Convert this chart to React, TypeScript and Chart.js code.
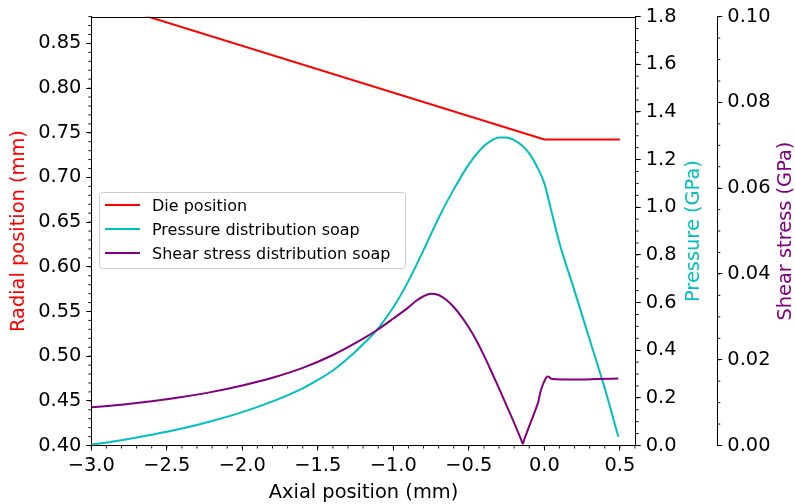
import React, { useEffect, useRef } from 'react';
import { Chart, registerables } from 'chart.js';

Chart.register(...registerables);

// ---------------- data ----------------
const seriesLabels = ['Die position', 'Pressure distribution soap', 'Shear stress distribution soap'];
const seriesColors = ['#ff0000', '#00bfbf', '#800080'];

const dieX = [-3.0, 0.0, 0.5];
const dieY = [0.8997, 0.7425, 0.7425];

const pressureX = [-3.0, -2.8, -2.6, -2.4, -2.2, -2.0, -1.8, -1.6, -1.5, -1.4, -1.3, -1.2, -1.1, -1.0, -0.9, -0.8, -0.7, -0.6, -0.5, -0.4, -0.35, -0.3, -0.25, -0.2, -0.15, -0.1, -0.05, 0.0, 0.05, 0.1, 0.2, 0.3, 0.4, 0.49];
const pressureY = [0.003, 0.022, 0.045, 0.071, 0.103, 0.140, 0.185, 0.240, 0.275, 0.315, 0.366, 0.425, 0.492, 0.580, 0.690, 0.820, 0.955, 1.075, 1.180, 1.257, 1.280, 1.293, 1.293, 1.282, 1.260, 1.226, 1.172, 1.100, 0.975, 0.850, 0.649, 0.445, 0.240, 0.037];

const shearX = [-3.0, -2.8, -2.6, -2.4, -2.2, -2.0, -1.8, -1.6, -1.4, -1.2, -1.1, -1.0, -0.9, -0.85, -0.8, -0.75, -0.7, -0.65, -0.6, -0.55, -0.5, -0.45, -0.4, -0.35, -0.3, -0.25, -0.2, -0.153, -0.143, -0.133, -0.1, -0.06, -0.04, -0.025, -0.01, 0.0, 0.02, 0.03, 0.045, 0.06, 0.15, 0.25, 0.35, 0.49];
const shearY = [0.0089, 0.0095, 0.0103, 0.0113, 0.0125, 0.0140, 0.0158, 0.0181, 0.0211, 0.0249, 0.0271, 0.0296, 0.0322, 0.0337, 0.0348, 0.0354, 0.0351, 0.0340, 0.0323, 0.0301, 0.0275, 0.0245, 0.0210, 0.0172, 0.0133, 0.0093, 0.0053, 0.0013, 0.0004, 0.0014, 0.0045, 0.0082, 0.0102, 0.0126, 0.0142, 0.0150, 0.0161, 0.0160, 0.0156, 0.0155, 0.0154, 0.0154, 0.0155, 0.0156];

const xTicks = [-3.0, -2.5, -2.0, -1.5, -1.0, -0.5, 0.0, 0.5];
const xTickLabels = ['−3.0', '−2.5', '−2.0', '−1.5', '−1.0', '−0.5', '0.0', '0.5'];
const radialTicks = [0.40, 0.45, 0.50, 0.55, 0.60, 0.65, 0.70, 0.75, 0.80, 0.85];
const radialTickLabels = ['0.40', '0.45', '0.50', '0.55', '0.60', '0.65', '0.70', '0.75', '0.80', '0.85'];
const pressureTicks = [0.0, 0.2, 0.4, 0.6, 0.8, 1.0, 1.2, 1.4, 1.6, 1.8];
const pressureTickLabels = ['0.0', '0.2', '0.4', '0.6', '0.8', '1.0', '1.2', '1.4', '1.6', '1.8'];
const shearTicks = [0.0, 0.02, 0.04, 0.06, 0.08, 0.10];
const shearTickLabels = ['0.00', '0.02', '0.04', '0.06', '0.08', '0.10'];

const xTitle = 'Axial position (mm)';
const radialTitle = 'Radial position (mm)';
const pressureTitle = 'Pressure (GPa)';
const shearTitle = 'Shear stress (GPa)';

// ---------------- styling ----------------
const FONT = 'DejaVu Sans';
const TICK_FONT_SIZE = 19.4;
const LEGEND_FONT_SIZE = 16;
const minorSteps: Record<string, number> = { x: 0.1, y: 0.01, yP: 0.05, yS: 0.005 };

const toPoints = (xs: number[], ys: number[]) => xs.map((x, i) => ({ x, y: ys[i] }));

const decorPlugin = {
  id: 'decor',
  afterDraw(chart: any) {
    const ctx = chart.ctx as CanvasRenderingContext2D;
    const ca = chart.chartArea;
    ctx.save();
    // top spine
    ctx.strokeStyle = '#000';
    ctx.lineWidth = 1;
    ctx.beginPath();
    ctx.moveTo(ca.left, Math.round(ca.top) + 0.5);
    ctx.lineTo(ca.right, Math.round(ca.top) + 0.5);
    ctx.stroke();

    // minor ticks
    ctx.lineWidth = 0.9;
    for (const id of Object.keys(minorSteps)) {
      const scale = chart.scales[id];
      if (!scale) continue;
      const step = minorSteps[id];
      const n0 = Math.ceil(scale.min / step - 1e-6);
      const n1 = Math.floor(scale.max / step + 1e-6);
      ctx.beginPath();
      for (let n = n0; n <= n1; n++) {
        const v = n * step;
        const p = scale.getPixelForValue(v);
        if (id === 'x') {
          ctx.moveTo(p, ca.bottom);
          ctx.lineTo(p, ca.bottom + 3);
        } else if (id === 'y') {
          ctx.moveTo(ca.left, p);
          ctx.lineTo(ca.left - 3, p);
        } else {
          ctx.moveTo(scale.left, p);
          ctx.lineTo(scale.left + 3, p);
        }
      }
      ctx.stroke();
    }

    // axis titles
    ctx.font = `${TICK_FONT_SIZE}px "${FONT}"`;
    ctx.textAlign = 'center';
    ctx.textBaseline = 'alphabetic';
    const midY = (ca.top + ca.bottom) / 2;

    ctx.fillStyle = '#000';
    ctx.fillText(xTitle, (ca.left + ca.right) / 2, 498);

    const vtitle = (text: string, color: string, bx: number) => {
      ctx.save();
      ctx.translate(bx, midY);
      ctx.rotate(-Math.PI / 2);
      ctx.fillStyle = color;
      ctx.fillText(text, 0, 0);
      ctx.restore();
    };
    vtitle(radialTitle, seriesColors[0], 24.3);
    vtitle(pressureTitle, seriesColors[1], 699);
    vtitle(shearTitle, seriesColors[2], 790.7);

    // legend
    const lx = 99.5, ly = 192.5, lw = 306, lh = 76, r = 3;
    ctx.beginPath();
    ctx.moveTo(lx + r, ly);
    ctx.lineTo(lx + lw - r, ly);
    ctx.quadraticCurveTo(lx + lw, ly, lx + lw, ly + r);
    ctx.lineTo(lx + lw, ly + lh - r);
    ctx.quadraticCurveTo(lx + lw, ly + lh, lx + lw - r, ly + lh);
    ctx.lineTo(lx + r, ly + lh);
    ctx.quadraticCurveTo(lx, ly + lh, lx, ly + lh - r);
    ctx.lineTo(lx, ly + r);
    ctx.quadraticCurveTo(lx, ly, lx + r, ly);
    ctx.closePath();
    ctx.fillStyle = 'rgba(255,255,255,0.8)';
    ctx.fill();
    ctx.strokeStyle = '#cccccc';
    ctx.lineWidth = 1;
    ctx.stroke();

    ctx.font = `${LEGEND_FONT_SIZE}px "${FONT}"`;
    ctx.textAlign = 'left';
    chart.data.datasets.forEach((ds: any, i: number) => {
      const y = 205 + i * 24;
      ctx.strokeStyle = ds.borderColor;
      ctx.lineWidth = 2;
      ctx.beginPath();
      ctx.moveTo(105, y);
      ctx.lineTo(140, y);
      ctx.stroke();
      ctx.fillStyle = '#000';
      ctx.fillText(ds.label, 152, y + 5.8);
    });
    ctx.restore();
  },
};

const tickFont = { family: FONT, size: TICK_FONT_SIZE };
const gridOpts = { drawOnChartArea: false, drawTicks: true, tickLength: 5, color: '#000', lineWidth: 1 };
const borderOpts = { display: true, color: '#000', width: 1 };

export default function App() {
  const ref = useRef<HTMLCanvasElement | null>(null);

  useEffect(() => {
    if (!ref.current) return;
    const chart = new Chart(ref.current, {
      type: 'line',
      data: {
        datasets: [
          {
            label: seriesLabels[0],
            data: toPoints(dieX, dieY),
            borderColor: seriesColors[0],
            borderWidth: 2,
            pointRadius: 0,
            tension: 0,
            yAxisID: 'y',
            order: 3,
          },
          {
            label: seriesLabels[1],
            data: toPoints(pressureX, pressureY),
            borderColor: seriesColors[1],
            borderWidth: 2,
            pointRadius: 0,
            cubicInterpolationMode: 'monotone',
            yAxisID: 'yP',
            order: 2,
          },
          {
            label: seriesLabels[2],
            data: toPoints(shearX, shearY),
            borderColor: seriesColors[2],
            borderWidth: 2,
            pointRadius: 0,
            cubicInterpolationMode: 'monotone',
            yAxisID: 'yS',
            order: 1,
          },
        ],
      },
      options: {
        animation: false,
        responsive: false,
        devicePixelRatio: 1,
        layout: { padding: { top: 14.8, left: 0, right: 0, bottom: 0 } },
        plugins: { legend: { display: false }, tooltip: { enabled: false } },
        scales: {
          x: {
            type: 'linear',
            position: 'bottom',
            min: -3.0,
            max: 0.605,
            grid: gridOpts,
            border: borderOpts,
            afterBuildTicks: (s: any) => { s.ticks = xTicks.map((v) => ({ value: v })); },
            afterFit: (s: any) => { s.height = 58.5; },
            ticks: {
              autoSkip: false,
              maxRotation: 0,
              padding: 4,
              color: '#000',
              font: tickFont,
              callback: (_v: any, i: number) => xTickLabels[i],
            },
          },
          y: {
            type: 'linear',
            position: 'left',
            min: 0.40,
            max: 0.88,
            grid: gridOpts,
            border: borderOpts,
            afterBuildTicks: (s: any) => { s.ticks = radialTicks.map((v) => ({ value: v })); },
            afterFit: (s: any) => { s.width = 91.3; },
            ticks: {
              autoSkip: false,
              padding: 5,
              color: '#000',
              font: tickFont,
              callback: (_v: any, i: number) => radialTickLabels[i],
            },
          },
          yP: {
            type: 'linear',
            position: 'right',
            weight: 0,
            min: 0,
            max: 1.8,
            grid: gridOpts,
            border: borderOpts,
            afterBuildTicks: (s: any) => { s.ticks = pressureTicks.map((v) => ({ value: v })); },
            afterFit: (s: any) => { s.width = 81.6; },
            ticks: {
              autoSkip: false,
              padding: 5,
              color: '#000',
              font: tickFont,
              callback: (_v: any, i: number) => pressureTickLabels[i],
            },
          },
          yS: {
            type: 'linear',
            position: 'right',
            weight: 1,
            min: 0,
            max: 0.10,
            grid: gridOpts,
            border: borderOpts,
            afterBuildTicks: (s: any) => { s.ticks = shearTicks.map((v) => ({ value: v })); },
            afterFit: (s: any) => { s.width = 77.7; },
            ticks: {
              autoSkip: false,
              padding: 5,
              color: '#000',
              font: tickFont,
              callback: (_v: any, i: number) => shearTickLabels[i],
            },
          },
        },
      } as any,
      plugins: [decorPlugin],
    });
    return () => chart.destroy();
  }, []);

  return (
    <div style={{ position: 'fixed', left: 0, top: 0, width: 795, height: 504, background: '#fff' }}>
      <canvas ref={ref} width={795} height={504} style={{ display: 'block', width: 795, height: 504 }} />
    </div>
  );
}
